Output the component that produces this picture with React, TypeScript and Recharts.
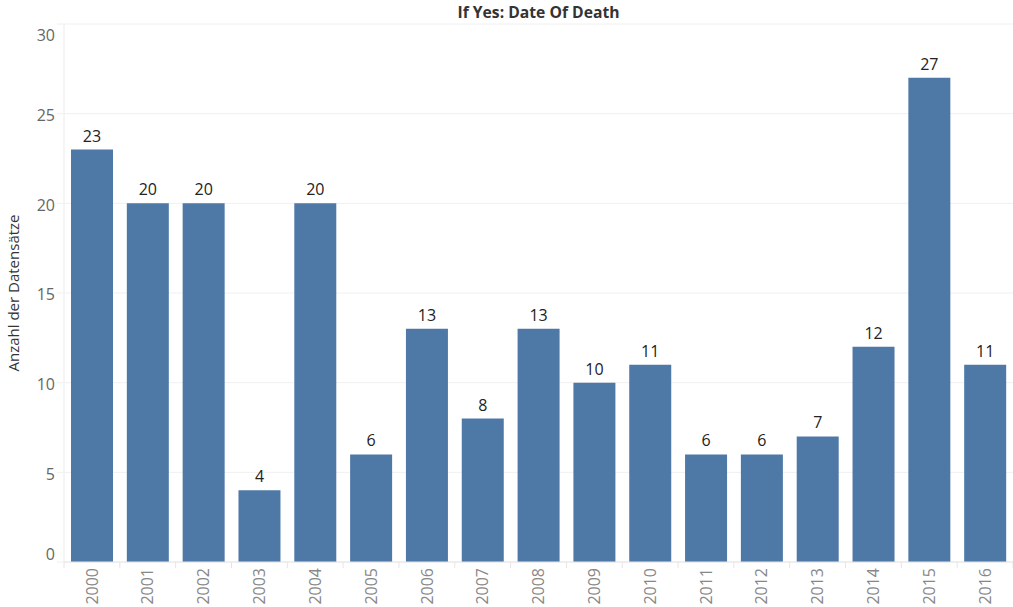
import React from 'react';
import { BarChart, Bar, XAxis, YAxis, CartesianGrid, LabelList } from 'recharts';

const years = ['2000','2001','2002','2003','2004','2005','2006','2007','2008','2009','2010','2011','2012','2013','2014','2015','2016'];
const counts = [23, 20, 20, 4, 20, 6, 13, 8, 13, 10, 11, 6, 6, 7, 12, 27, 11];
const yTicks = [0, 5, 10, 15, 20, 25, 30];

const data = years.map((y, i) => ({ year: y, count: counts[i] }));

const W = 1013;
const H = 607;
const LEFT = 64;
const FONT = '"Open Sans", "Noto Sans", sans-serif';
const BAND = (W - LEFT) / years.length;

const YTick = (props: any) => {
  const { x, y, payload } = props;
  let yy = y + 1.5;
  if (payload.value === 30) yy = y + 11;
  if (payload.value === 0) yy = y - 8;
  return (
    <text x={x} y={yy} dy="0.355em" textAnchor="end" fill="#666" fontSize={16} fontFamily={FONT}>
      {payload.value}
    </text>
  );
};

const XTick = (props: any) => {
  const { x, y, payload, index } = props;
  const axisY = y - 6;
  return (
    <g>
      <line x1={x - BAND / 2} x2={x - BAND / 2} y1={axisY} y2={axisY + 6} stroke="#e6e6e6" />
      {index === years.length - 1 && (
        <line x1={x + BAND / 2} x2={x + BAND / 2} y1={axisY} y2={axisY + 6} stroke="#e6e6e6" />
      )}
      <text
        x={x}
        y={y}
        dy="0.355em"
        textAnchor="end"
        transform={`rotate(-90, ${x}, ${y})`}
        fill="#888"
        fontSize={16}
        fontFamily={FONT}
      >
        {payload.value}
      </text>
    </g>
  );
};

const YLabel = (props: any) => {
  const vb = props.viewBox || {};
  const cy = (vb.y ?? 24) + (vb.height ?? 538) / 2;
  return (
    <text
      x={14}
      y={cy}
      dy="0.355em"
      textAnchor="middle"
      transform={`rotate(-90, 14, ${cy})`}
      fill="#333"
      fontSize={15}
      fontFamily={FONT}
    >
      Anzahl der Datensätze
    </text>
  );
};

export default function App() {
  return (
    <div style={{ position: 'fixed', left: 0, top: 0, width: W, height: H, background: '#fff' }}>
      <div
        style={{
          position: 'absolute',
          left: LEFT,
          width: W - LEFT,
          top: 1,
          lineHeight: '22px',
          textAlign: 'center',
          fontFamily: FONT,
          fontWeight: 700,
          fontSize: 15.7,
          color: '#333',
        }}
      >
        If Yes: Date Of Death
      </div>
      <BarChart
        width={W}
        height={H}
        data={data}
        margin={{ top: 24, right: 0, bottom: 0, left: 0 }}
      >
        <CartesianGrid vertical={false} stroke="#f0f0f0" />
        <XAxis
          dataKey="year"
          height={45}
          tickLine={false}
          tickSize={0}
          tickMargin={6}
          axisLine={{ stroke: '#e6e6e6' }}
          tick={<XTick />}
          interval={0}
        />
        <YAxis
          width={LEFT}
          domain={[0, 30]}
          ticks={yTicks}
          interval={0}
          tickSize={7}
          tickMargin={2}
          tickLine={{ stroke: '#f0f0f0' }}
          axisLine={{ stroke: '#ebebeb' }}
          tick={<YTick />}
          label={<YLabel />}
        />
        <Bar dataKey="count" fill="#4e79a7" barSize={42} isAnimationActive={false}>
          <LabelList dataKey="count" position="top" offset={8} fill="#222" fontSize={16} fontFamily={FONT} />
        </Bar>
      </BarChart>
    </div>
  );
}
